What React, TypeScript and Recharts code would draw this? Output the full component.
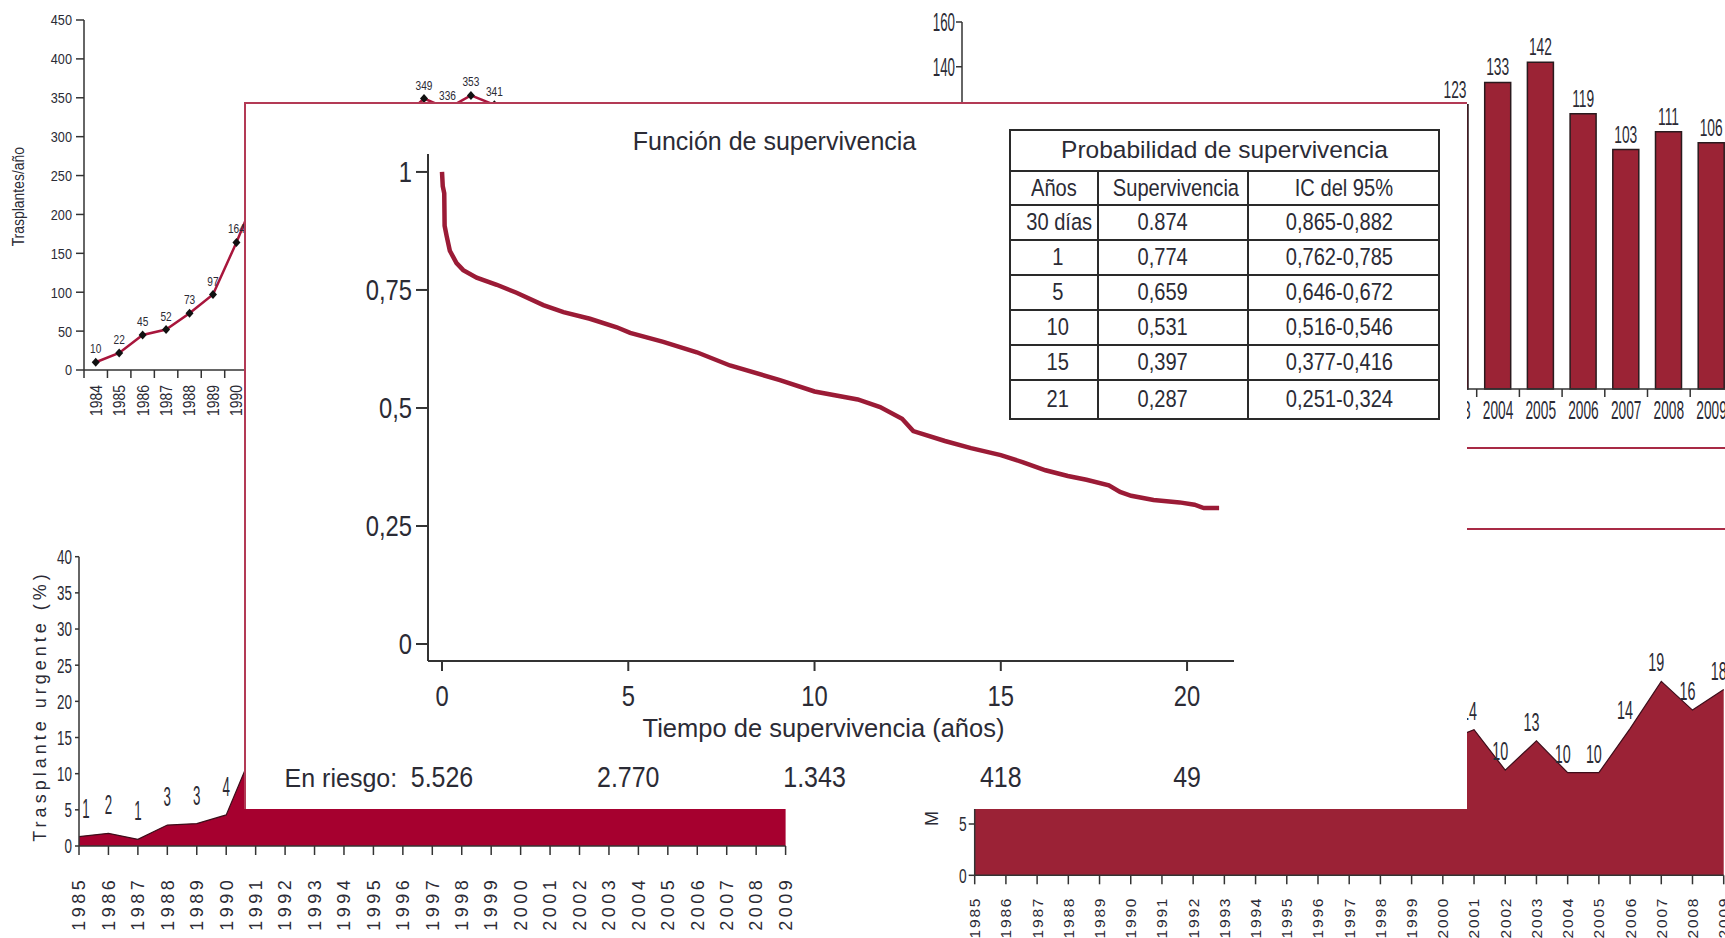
import React from "react";
import {
  Area,
  AreaChart,
  Bar,
  BarChart,
  LabelList,
  Line,
  LineChart,
  XAxis,
  YAxis,
} from "recharts";

const SANS = "'Liberation Sans', Arial, sans-serif";
const NARROW_K = 0.82; // no narrow face installed, squeeze Liberation Sans instead
const INK = "#2b2b35";
const AXIS = "#333";

// Función de supervivencia
const survYears = [
  0, 0.02, 0.06, 0.07, 0.125, 0.21, 0.39, 0.57, 0.93, 1.47, 2.0, 2.72, 3.26, 3.97, 4.69, 5.05,
  5.94, 6.84, 7.73, 9.07, 10.0, 11.16, 11.76, 12.35, 12.65, 13.5, 14.2, 15.0, 15.6, 16.2, 16.8,
  17.3, 17.9, 18.2, 18.5, 19.1, 19.8, 20.2, 20.45, 20.86,
];
const survValues = [
  1, 0.97, 0.955, 0.886, 0.864, 0.833, 0.807, 0.792, 0.776, 0.761, 0.744, 0.718, 0.703, 0.689,
  0.671, 0.659, 0.64, 0.618, 0.59, 0.559, 0.535, 0.518, 0.502, 0.477, 0.451, 0.43, 0.415, 0.4,
  0.385, 0.368, 0.356, 0.348, 0.336, 0.322, 0.314, 0.305, 0.3, 0.295, 0.288, 0.288,
];
const survTicksX = [0, 5, 10, 15, 20];
const survTicksY = [0, 0.25, 0.5, 0.75, 1];
const atRisk = ["5.526", "2.770", "1.343", "418", "49"];

const tableYears = ["30 días", "1", "5", "10", "15", "21"];
const tableSurv = ["0.874", "0,774", "0,659", "0,531", "0,397", "0,287"];
const tableCI = ["0,865-0,882", "0,762-0,785", "0,646-0,672", "0,516-0,546", "0,377-0,416", "0,251-0,324"];

// fragments of the other panels behind the box
const txYears = [
  1984, 1985, 1986, 1987, 1988, 1989, 1990, 1991, 1992, 1993, 1994, 1995, 1996, 1997, 1998, 1999,
  2000, 2001, 2002, 2003, 2004, 2005, 2006, 2007, 2008, 2009,
];
const txCounts = [
  10, 22, 45, 52, 73, 97, 164, 237, 262, 272, 277, 283, 282, 321, 349, 336, 353, 341, 313, 303,
  296, 294, 263, 241, 288, 274,
];
const txTicksY = [0, 50, 100, 150, 200, 250, 300, 350, 400, 450];

const barYears = [
  1992, 1993, 1994, 1995, 1996, 1997, 1998, 1999, 2000, 2001, 2002, 2003, 2004, 2005, 2006, 2007,
  2008, 2009,
];
const barCounts = [84, 90, 97, 101, 104, 99, 108, 106, 110, 104, 112, 123, 133, 142, 119, 103, 111, 106];
const barTicksY = [0, 20, 40, 60, 80, 100, 120, 140, 160];

const areaYears = [
  1985, 1986, 1987, 1988, 1989, 1990, 1991, 1992, 1993, 1994, 1995, 1996, 1997, 1998, 1999, 2000,
  2001, 2002, 2003, 2004, 2005, 2006, 2007, 2008, 2009,
];
const urgentPct = [
  1.3, 1.75, 0.93, 2.9, 3.1, 4.3, 14, 15, 17, 19, 20, 22, 21, 23, 22, 24, 25, 24, 26, 27, 30, 31,
  33, 32, 34,
];
const urgentTicksY = [0, 5, 10, 15, 20, 25, 30, 35, 40];
const mortPct = [
  15, 12, 14, 11, 13, 10, 12, 11, 9, 10, 11, 9, 12, 10, 11, 13, 14.2, 10.25, 13.1, 10, 10, 14.3,
  18.9, 16.1, 18.1,
];
const mortTicksY = [0, 5, 10, 15, 20, 25];

type CondProps = {
  x: number;
  y: number;
  text: string;
  size: number;
  sx?: number;
  anchor?: "start" | "middle" | "end";
  dy?: string | number;
  rotate?: number;
  narrow?: boolean;
  fill?: string;
  ls?: number;
};

function Cond({ x, y, text, size, sx = 1, anchor = "middle", dy = 0, rotate = 0, narrow = true, fill = INK, ls }: CondProps) {
  const k = narrow ? sx * NARROW_K : sx;
  return (
    <text
      transform={`translate(${x},${y}) rotate(${rotate}) scale(${k},1)`}
      textAnchor={anchor}
      dy={dy}
      fontSize={size}
      fontFamily={SANS}
      fill={fill}
      letterSpacing={ls}
    >
      {text}
    </text>
  );
}

const pointLabel =
  (size: number, sx: number, off: number, dx = 0, fmt = (v: any) => String(v), firstDx = 0) =>
  (p: any) => {
    const vb = p.viewBox ?? {};
    const x = Number(p.x ?? vb.x ?? 0) + Number(p.width ?? vb.width ?? 0) / 2 + dx + (p.index === 0 ? firstDx : 0);
    const y = Number(p.y ?? vb.y ?? 0) - off;
    return <Cond key={p.index} x={x} y={y} text={fmt(p.value)} size={size} sx={sx} />;
  };

const yTick = (size: number, sx: number, fmt = (v: number) => String(v)) => (p: any) =>
  <Cond key={p.index} x={p.x} y={p.y} text={fmt(p.payload.value)} size={size} sx={sx} anchor="end" dy="0.35em" />;

// survival time tick, with the at-risk count written under it
const survTick = (p: any) => (
  <g key={p.index}>
    <Cond x={p.x} y={p.y} text={String(p.payload.value)} size={29} dy="0.71em" />
    <Cond
      x={p.x}
      y={p.y + 81}
      text={atRisk[survTicksX.indexOf(p.payload.value)] ?? ""}
      size={29}
      sx={1.05}
      dy="0.71em"
    />
  </g>
);

const rotTick = (size: number, ls: number) => (p: any) =>
  (
    <Cond
      key={p.index}
      x={p.x}
      y={p.y}
      text={String(p.payload.value)}
      size={size}
      ls={ls}
      narrow={false}
      anchor="end"
      rotate={-90}
      dy="0.35em"
    />
  );

const txTick = (p: any) => (
  <g key={p.index}>
    <line x1={p.x - 11.72} x2={p.x - 11.72} y1={p.y} y2={p.y + 8} stroke={AXIS} strokeWidth={1.5} />
    <Cond x={p.x} y={p.y + 15} text={String(p.payload.value)} size={17} anchor="end" rotate={-90} dy="0.35em" />
  </g>
);

const barTick = (p: any) => (
  <g key={p.index}>
    <line x1={p.x - 21.35} x2={p.x - 21.35} y1={p.y} y2={p.y + 8} stroke={AXIS} strokeWidth={1.5} />
    <Cond x={p.x} y={p.y + 12.7} text={String(p.payload.value)} size={25} sx={0.67} dy="0.71em" />
  </g>
);

const diamond = (p: any) => (
  <path
    key={p.index}
    d={`M${p.cx},${p.cy - 4.5}L${p.cx + 4},${p.cy}L${p.cx},${p.cy + 4.5}L${p.cx - 4},${p.cy}Z`}
    fill="#111"
  />
);

const commaTick = (v: number) => String(v).replace(".", ",");

const layer: React.CSSProperties = { position: "absolute", left: 0, top: 0 };

const cell: React.CSSProperties = {
  border: "2px solid #2a2a2a",
  padding: 0,
  textAlign: "center",
  lineHeight: 1,
  whiteSpace: "nowrap",
};

function Sq({ children, k = NARROW_K }: { children: React.ReactNode; k?: number }) {
  return <span style={{ display: "inline-block", transform: `scaleX(${k})` }}>{children}</span>;
}

export default function App() {
  const survData = survYears.map((t, i) => ({ t, s: survValues[i] }));
  const txData = txYears.map((year, i) => ({ year, n: txCounts[i] }));
  const barData = barYears.map((year, i) => ({ year: String(year), v: barCounts[i] }));
  const urgentData = areaYears.map((year, i) => ({ year, v: urgentPct[i] }));
  const mortData = areaYears.map((year, i) => ({ year, v: mortPct[i] }));

  return (
    <div
      style={{
        position: "fixed",
        left: 0,
        top: 0,
        width: 1725,
        height: 938,
        overflow: "hidden",
        background: "#fff",
      }}
    >
      {/* Trasplantes/año */}
      <div style={layer}>
        <LineChart width={1725} height={938} data={txData} margin={{ top: 20, right: 1031.3, bottom: 508, left: 24 }}>
          <XAxis
            dataKey="year"
            type="number"
            domain={[1983.5, 2009.5]}
            ticks={txYears}
            interval={0}
            height={60}
            tickSize={0}
            tickMargin={0}
            tickLine={false}
            axisLine={{ stroke: AXIS, strokeWidth: 1.5 }}
            tick={txTick}
          />
          <YAxis
            type="number"
            domain={[0, 450]}
            ticks={txTicksY}
            interval={0}
            width={60}
            tickSize={8}
            tickMargin={4}
            axisLine={{ stroke: AXIS, strokeWidth: 1.5 }}
            tickLine={{ stroke: AXIS, strokeWidth: 1.5 }}
            tick={yTick(15.5, 1)}
          />
          <Line dataKey="n" type="linear" stroke="#a8163c" strokeWidth={2.5} dot={diamond} isAnimationActive={false}>
            <LabelList dataKey="n" content={pointLabel(13, 0.95, 9)} />
          </Line>
        </LineChart>
      </div>

      {/* bar panel, top right */}
      <div style={layer}>
        <BarChart width={1760} height={938} data={barData} margin={{ top: 22, right: 27.1, bottom: 509, left: 902 }}>
          <XAxis
            dataKey="year"
            interval={0}
            height={40}
            padding={{ left: 2.3, right: 0 }}
            tickSize={0}
            tickMargin={0}
            tickLine={false}
            axisLine={{ stroke: AXIS, strokeWidth: 1.5 }}
            tick={barTick}
          />
          <YAxis
            type="number"
            domain={[-4, 160]}
            ticks={barTicksY}
            interval={0}
            width={60}
            tickSize={6}
            tickMargin={1}
            axisLine={{ stroke: AXIS, strokeWidth: 1.5 }}
            tickLine={{ stroke: AXIS, strokeWidth: 1.5 }}
            tick={yTick(25, 0.65)}
          />
          <Bar
            dataKey={(d: any) => [-4, d.v]}
            barSize={26}
            fill="#9b2335"
            stroke="#2a1a1e"
            strokeWidth={1.5}
            isAnimationActive={false}
          >
            <LabelList dataKey="v" content={pointLabel(24, 0.7, 7)} />
          </Bar>
        </BarChart>
      </div>

      {/* Trasplante urgente (%) */}
      <div style={layer}>
        <AreaChart width={1725} height={938} data={urgentData} margin={{ top: 556.7, right: 939.4, bottom: 2, left: 19 }}>
          <XAxis
            dataKey="year"
            interval={0}
            height={90}
            tickSize={9}
            tickMargin={21.7}
            axisLine={{ stroke: AXIS, strokeWidth: 1.5 }}
            tickLine={{ stroke: AXIS, strokeWidth: 1.5 }}
            tick={rotTick(18, 3.5)}
          />
          <YAxis
            type="number"
            domain={[0, 40]}
            ticks={urgentTicksY}
            interval={0}
            width={60}
            tickSize={4}
            tickMargin={3}
            axisLine={{ stroke: AXIS, strokeWidth: 1.5 }}
            tickLine={{ stroke: AXIS, strokeWidth: 1.5 }}
            tick={yTick(21, 0.78)}
          />
          <Area
            dataKey="v"
            type="linear"
            fill="#a6002f"
            fillOpacity={1}
            stroke="#3d0d1a"
            strokeWidth={1.2}
            isAnimationActive={false}
          >
            <LabelList dataKey="v" content={pointLabel(28, 0.58, 19, 0, (v) => String(Math.round(v)), 7)} />
          </Area>
        </AreaChart>
      </div>

      {/* mortality panel, bottom right */}
      <div style={layer}>
        <AreaChart width={1725} height={938} data={mortData} margin={{ top: 618.8, right: 1.3, bottom: 0.7, left: 914.7 }}>
          <XAxis
            dataKey="year"
            interval={0}
            height={62}
            tickSize={9}
            tickMargin={12.4}
            axisLine={{ stroke: AXIS, strokeWidth: 1.5 }}
            tickLine={{ stroke: AXIS, strokeWidth: 1.5 }}
            tick={rotTick(15.5, 1.8)}
          />
          <YAxis
            type="number"
            domain={[0, 25]}
            ticks={mortTicksY}
            interval={0}
            width={60}
            tickSize={6}
            tickMargin={2}
            axisLine={{ stroke: AXIS, strokeWidth: 1.5 }}
            tickLine={{ stroke: AXIS, strokeWidth: 1.5 }}
            tick={yTick(21, 0.8)}
          />
          <Area
            dataKey="v"
            type="linear"
            fill="#9b2236"
            fillOpacity={1}
            stroke="#3d0d1a"
            strokeWidth={1.2}
            isAnimationActive={false}
          >
            <LabelList dataKey="v" content={pointLabel(25, 0.7, 10, -5, (v) => String(Math.round(v)))} />
          </Area>
        </AreaChart>
      </div>

      <svg width={1725} height={938} style={layer}>
        <Cond x={18} y={196.7} text="Trasplantes/año" size={17} rotate={-90} dy="0.35em" />
        <Cond x={40} y={706} text="Trasplante urgente (%)" size={18} narrow={false} ls={4} rotate={-90} dy="0.35em" />
        <Cond x={931.6} y={826} text="Mortalidad (%)" size={18} narrow={false} ls={3} anchor="start" rotate={-90} dy="0.35em" />
      </svg>

      {/* red rules of the panels on the right */}
      <div style={{ position: "absolute", left: 1467, top: 447, width: 258, height: 2, background: "#a82a45" }} />
      <div style={{ position: "absolute", left: 1467, top: 528, width: 258, height: 2, background: "#a82a45" }} />

      {/* the survival box on top */}
      <div
        style={{
          position: "absolute",
          left: 244,
          top: 102,
          width: 1223,
          height: 707,
          background: "#fff",
          borderTop: "2px solid #b33a55",
          borderLeft: "2px solid #b33a55",
          boxSizing: "border-box",
        }}
      />

      <div style={layer}>
        <LineChart width={1725} height={938} data={survData} margin={{ top: 154, right: 491, bottom: 197, left: 328 }}>
          <XAxis
            dataKey="t"
            type="number"
            domain={[-0.376, 21.26]}
            allowDataOverflow
            ticks={survTicksX}
            interval={0}
            height={80}
            tickSize={10}
            tickMargin={14}
            axisLine={{ stroke: AXIS, strokeWidth: 2 }}
            tickLine={{ stroke: AXIS, strokeWidth: 2 }}
            tick={survTick}
          />
          <YAxis
            type="number"
            domain={[-0.036, 1.038]}
            allowDataOverflow
            ticks={survTicksY}
            interval={0}
            width={100}
            tickSize={12}
            tickMargin={4}
            axisLine={{ stroke: AXIS, strokeWidth: 2 }}
            tickLine={{ stroke: AXIS, strokeWidth: 2 }}
            tick={yTick(29, 1, commaTick)}
          />
          <Line dataKey="s" type="linear" stroke="#9b1b36" strokeWidth={4.5} dot={false} isAnimationActive={false} />
        </LineChart>
      </div>

      <svg width={1725} height={938} style={layer}>
        <Cond x={774.5} y={150} text="Función de supervivencia" size={25} narrow={false} />
        <Cond x={823.5} y={736.5} text="Tiempo de supervivencia (años)" size={25.5} narrow={false} />
        <Cond x={284.6} y={786.5} text="En riesgo:" size={25} narrow={false} anchor="start" />
      </svg>

      <table
        style={{
          position: "absolute",
          left: 1009,
          top: 129,
          width: 429,
          height: 289,
          borderCollapse: "collapse",
          tableLayout: "fixed",
          fontFamily: SANS,
          fontSize: 24.5,
          color: INK,
          background: "#fff",
        }}
      >
        <colgroup>
          <col style={{ width: 88 }} />
          <col style={{ width: 150 }} />
          <col style={{ width: 191 }} />
        </colgroup>
        <tbody>
          <tr style={{ height: 41 }}>
            <td colSpan={3} style={cell}>
              Probabilidad de supervivencia
            </td>
          </tr>
          <tr style={{ height: 34 }}>
            <td style={cell}><Sq>Años</Sq></td>
            <td style={cell}><Sq>Supervivencia</Sq></td>
            <td style={cell}><Sq>IC del 95%</Sq></td>
          </tr>
          {tableYears.map((yr, i) => (
            <tr key={yr} style={{ height: i === tableYears.length - 1 ? 39 : 35 }}>
              <td style={{ ...cell, paddingLeft: 8 }}><Sq>{yr}</Sq></td>
              <td style={{ ...cell, paddingRight: 20 }}><Sq>{tableSurv[i]}</Sq></td>
              <td style={{ ...cell, paddingRight: 8 }}><Sq>{tableCI[i]}</Sq></td>
            </tr>
          ))}
        </tbody>
      </table>
    </div>
  );
}
